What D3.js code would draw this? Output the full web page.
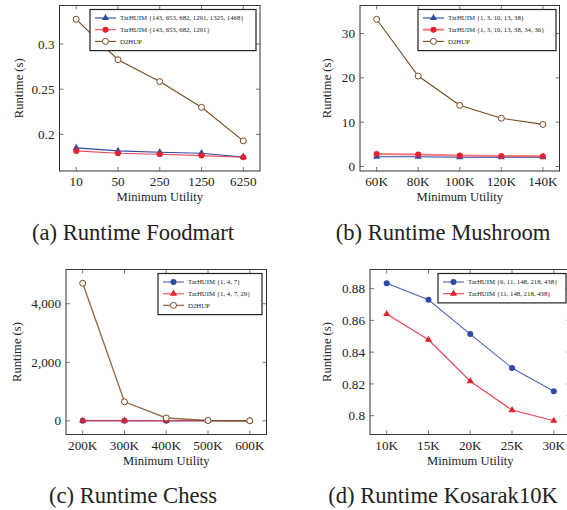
<!DOCTYPE html>
<html lang="en">
<head>
<meta charset="utf-8">
<title>Runtime comparison</title>
<script src="https://d3js.org/d3.v7.min.js"></script>
<style>
  body { margin: 0; background: #fff; }
</style>
</head>
<body>
<script>
// ---- data ----
var foodmartX = ["10", "50", "250", "1250", "6250"];
var foodmartTar6 = [0.1851, 0.1818, 0.1803, 0.1792, 0.1751];
var foodmartTar4 = [0.1818, 0.1792, 0.1780, 0.1766, 0.1748];
var foodmartD2 = [0.3273, 0.2826, 0.2584, 0.2300, 0.1929];
var foodmartTicks = [0.2, 0.25, 0.3];

var mushroomX = ["60K", "80K", "100K", "120K", "140K"];
var mushroomTar5 = [2.2, 2.2, 2.1, 2.1, 2.1];
var mushroomTar7 = [2.8, 2.7, 2.5, 2.4, 2.3];
var mushroomD2 = [33.2, 20.4, 13.8, 10.9, 9.5];
var mushroomTicks = [0, 10, 20, 30];

var chessX = ["200K", "300K", "400K", "500K", "600K"];
var chessTar3 = [6, 5, 5, 4, 4];
var chessTar4 = [8, 7, 6, 5, 5];
var chessD2 = [4700, 650, 100, 15, 5];
var chessTicks = [0, 2000, 4000];

var kosarakX = ["10K", "15K", "20K", "25K", "30K"];
var kosarakTar5 = [0.8834, 0.8730, 0.8514, 0.8300, 0.8154];
var kosarakTar4 = [0.8640, 0.8478, 0.8217, 0.8035, 0.7968];
var kosarakTicks = [0.8, 0.82, 0.84, 0.86, 0.88];

var blue = "#2f4aa6", red = "#e3212f", brown = "#7b4a1f";
var serif = "'Liberation Serif', 'Times New Roman', Tinos, serif";

var svg = d3.select("body").append("svg")
    .attr("width", 567).attr("height", 510)
    .attr("font-family", serif);

function txt(sel) {
  return sel.append("text").attr("font-family", serif).attr("fill", "#222");
}

function drawPanel(p) {
  var g = svg.append("g");
  var x = d3.scalePoint().domain(p.cats).range([p.x0, p.x1]).padding(0.4);
  var all = [].concat.apply([], p.series.map(function(s) { return s.values; }));
  var lo = d3.min(all), hi = d3.max(all), pad = (hi - lo) * 0.1;
  var y = d3.scaleLinear().domain([lo - pad, hi + pad]).range([p.y1, p.y0]);

  // ticks on all four sides, pointing inward
  var tl = 4;
  p.cats.forEach(function(c) {
    g.append("line").attr("x1", x(c)).attr("x2", x(c)).attr("y1", p.y1).attr("y2", p.y1 - tl).attr("stroke", "#777");
    g.append("line").attr("x1", x(c)).attr("x2", x(c)).attr("y1", p.y0).attr("y2", p.y0 + tl).attr("stroke", "#777");
    txt(g).attr("x", x(c)).attr("y", p.y1 + 15).attr("text-anchor", "middle")
      .attr("font-size", 13.2).text(c);
  });
  p.ticks.forEach(function(t) {
    g.append("line").attr("x1", p.x0).attr("x2", p.x0 + tl).attr("y1", y(t)).attr("y2", y(t)).attr("stroke", "#777");
    g.append("line").attr("x1", p.x1).attr("x2", p.x1 - tl).attr("y1", y(t)).attr("y2", y(t)).attr("stroke", "#777");
    txt(g).attr("x", p.x0 - 5).attr("y", y(t)).attr("dy", "0.35em").attr("text-anchor", "end")
      .attr("font-size", 13.2).text(p.tickFmt(t));
  });

  var line = d3.line().x(function(d, i) { return x(p.cats[i]); }).y(function(d) { return y(d); });
  p.series.forEach(function(s) {
    g.append("path").datum(s.values).attr("d", line).attr("fill", "none")
      .attr("stroke", s.color).attr("stroke-width", s.width || 1.1).attr("stroke-opacity", s.opacity || 1);
    s.values.forEach(function(v, i) { marker(g, s, x(p.cats[i]), y(v)); });
  });

  g.append("rect").attr("x", p.x0).attr("y", p.y0).attr("width", p.x1 - p.x0).attr("height", p.y1 - p.y0)
    .attr("fill", "none").attr("stroke", "#333").attr("stroke-width", 1);

  // axis titles
  txt(g).attr("x", (p.x0 + p.x1) / 2).attr("y", p.y1 + 30).attr("text-anchor", "middle")
    .attr("font-size", 12.6).text("Minimum Utility");
  txt(g).attr("transform", "translate(" + (p.x0 - p.yLabelOff) + "," + ((p.y0 + p.y1) / 2) + ") rotate(-90)")
    .attr("text-anchor", "middle").attr("dy", "0.35em").attr("font-size", 12.6).text("Runtime (s)");

  // caption
  txt(svg).attr("x", p.capX).attr("y", p.capY).attr("text-anchor", "middle")
    .attr("font-size", 22.6).text(p.caption);

  // legend
  var L = p.legend;
  var lg = svg.append("g");
  lg.append("rect").attr("x", L.x).attr("y", L.y).attr("width", L.w).attr("height", 6 + 11.7 * p.series.length)
    .attr("fill", "#fff").attr("stroke", "#222").attr("stroke-width", 1.2);
  p.series.forEach(function(s, i) {
    var cy = L.y + 8.5 + i * 11.7;
    lg.append("line").attr("x1", L.x + 5).attr("x2", L.x + 26).attr("y1", cy).attr("y2", cy)
      .attr("stroke", s.color).attr("stroke-width", s.width || 1.1).attr("stroke-opacity", s.opacity || 1);
    marker(lg, s, L.x + 15.5, cy);
    txt(lg).attr("x", L.x + 30).attr("y", cy).attr("dy", "0.35em")
      .attr("font-size", 6.8).text(s.name);
  });
}

function marker(g, s, cx, cy) {
  if (s.mark === "circle") {
    g.append("circle").attr("cx", cx).attr("cy", cy).attr("r", 3).attr("fill", s.color);
  } else if (s.mark === "ocircle") {
    g.append("circle").attr("cx", cx).attr("cy", cy).attr("r", 3).attr("fill", "#fff")
      .attr("stroke", s.color).attr("stroke-width", 1);
  } else {
    g.append("path").attr("d", d3.symbol(d3.symbolTriangle, 22)()).attr("transform", "translate(" + cx + "," + cy + ")")
      .attr("fill", s.color);
  }
}

var fmtComma = d3.format(",");

drawPanel({
  cats: foodmartX, ticks: foodmartTicks, tickFmt: function(t) { return String(t); },
  x0: 59.5, x1: 260, y0: 5.5, y1: 171, yLabelOff: 41,
  caption: "(a) Runtime Foodmart", capX: 133, capY: 240,
  legend: { x: 90, y: 9.5, w: 166 },
  series: [
    { name: "TarHUIM {143, 653, 682, 1291, 1325, 1468}", values: foodmartTar6, color: blue, mark: "tri" },
    { name: "TarHUIM {143, 653, 682, 1291}", values: foodmartTar4, color: red, mark: "circle", opacity: 0.8 },
    { name: "D2HUP", values: foodmartD2, color: brown, mark: "ocircle" }
  ]
});

drawPanel({
  cats: mushroomX, ticks: mushroomTicks, tickFmt: function(t) { return String(t); },
  x0: 360, x1: 559.5, y0: 5.5, y1: 171, yLabelOff: 33,
  caption: "(b) Runtime Mushroom", capX: 443, capY: 240,
  legend: { x: 418, y: 9.5, w: 138 },
  series: [
    { name: "TarHUIM {1, 3, 10, 13, 38}", values: mushroomTar5, color: blue, mark: "tri" },
    { name: "TarHUIM {1, 3, 10, 13, 38, 34, 36}", values: mushroomTar7, color: red, mark: "circle", opacity: 0.6, width: 2 },
    { name: "D2HUP", values: mushroomD2, color: brown, mark: "ocircle" }
  ]
});

drawPanel({
  cats: chessX, ticks: chessTicks, tickFmt: fmtComma,
  x0: 66, x1: 266.5, y0: 269.5, y1: 434.5, yLabelOff: 49,
  caption: "(c) Runtime Chess", capX: 133, capY: 503,
  legend: { x: 158, y: 273.5, w: 104 },
  series: [
    { name: "TarHUIM {1, 4, 7}", values: chessTar3, color: blue, mark: "circle", opacity: 0.6, width: 1.6 },
    { name: "TarHUIM {1, 4, 7, 29}", values: chessTar4, color: red, mark: "tri", opacity: 0.6, width: 1.6 },
    { name: "D2HUP", values: chessD2, color: brown, mark: "ocircle", opacity: 0.8, width: 1.4 }
  ]
});

drawPanel({
  cats: kosarakX, ticks: kosarakTicks, tickFmt: function(t) { return String(t); },
  x0: 370, x1: 570.5, y0: 269.5, y1: 434.5, yLabelOff: 43,
  caption: "(d) Runtime Kosarak10K", capX: 443, capY: 503,
  legend: { x: 438, y: 273.5, w: 128 },
  series: [
    { name: "TarHUIM {6, 11, 148, 218, 438}", values: kosarakTar5, color: blue, mark: "circle", opacity: 0.85 },
    { name: "TarHUIM {11, 148, 218, 438}", values: kosarakTar4, color: red, mark: "tri", opacity: 0.85 }
  ]
});
</script>
</body>
</html>
